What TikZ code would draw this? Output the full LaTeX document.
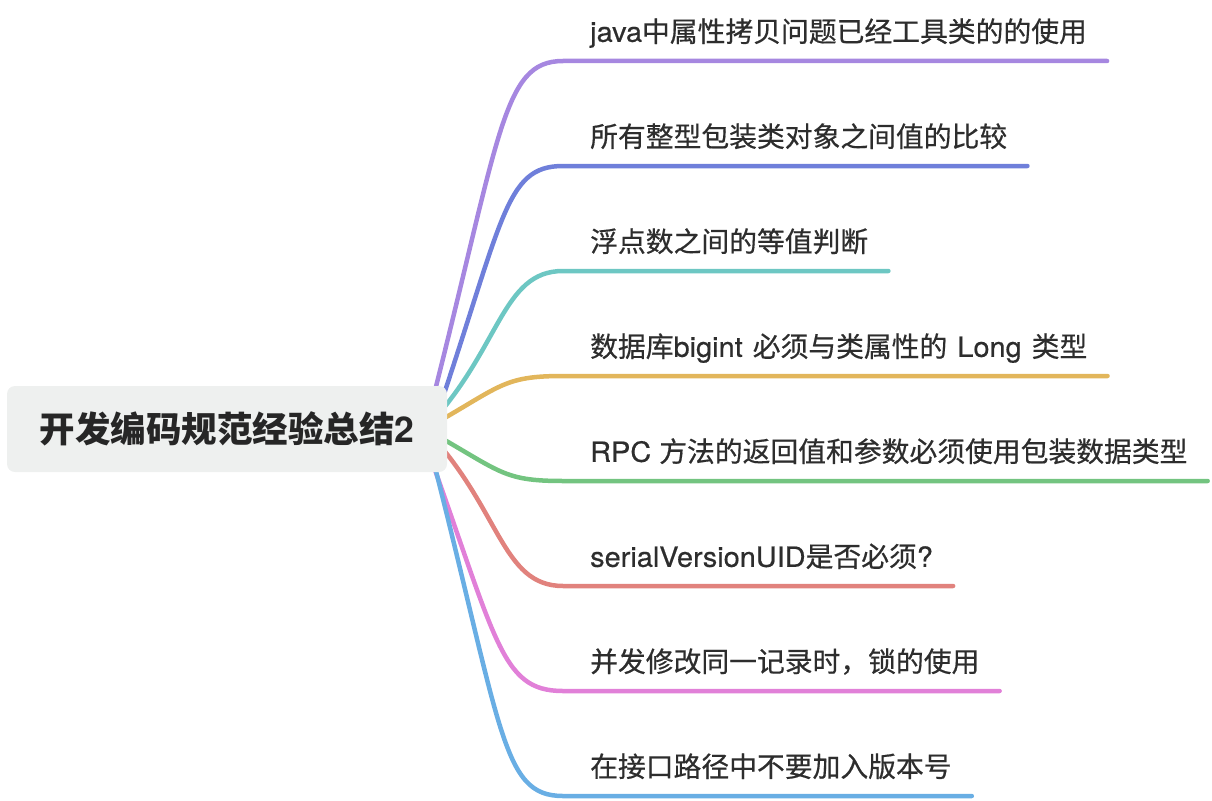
\documentclass[tikz,border=0pt]{standalone}
\usepackage{fontspec}
\newfontfamily\cjk[FakeBold=0.5]{Noto Sans CJK SC}
\newfontfamily\cjkb{Noto Sans CJK SC}
\newfontfamily\lat[FakeBold=0.5,FakeStretch=1.04]{TeX Gyre Heros}
\newfontfamily\latb{TeX Gyre Heros}
\usetikzlibrary{calc,backgrounds}
\definecolor{cPurple}{RGB}{166,135,224}
\definecolor{cBlue}{RGB}{111,127,218}
\definecolor{cTeal}{RGB}{109,199,195}
\definecolor{cYellow}{RGB}{226,182,91}
\definecolor{cGreen}{RGB}{115,196,128}
\definecolor{cRed}{RGB}{225,130,125}
\definecolor{cPink}{RGB}{225,128,216}
\definecolor{cSky}{RGB}{105,174,228}
\definecolor{rootFill}{RGB}{238,240,239}
\definecolor{labelText}{RGB}{45,45,45}
\definecolor{rootText}{RGB}{38,38,38}
\newcommand{\lt}[1]{{\lat #1}}
\newcommand{\pre}{\kern27pt}
\newcommand{\post}{\kern20pt}
\newcommand{\wsp}{{\lat\ }\kern2pt}
\begin{document}
\begin{tikzpicture}[x=1pt,y=-1pt,
  rootbox/.style={rectangle, rounded corners=8pt, fill=rootFill, minimum width=440pt, minimum height=86pt, inner sep=0pt,
    font=\cjkb\bfseries\fontsize{35.5}{40}\selectfont, text=rootText},
  topic/.style={anchor=south west, inner xsep=0pt, inner ysep=19pt, text depth=0pt,
    font=\cjk\fontsize{27.8}{33}\selectfont, text=labelText},
  branch/.style={line width=4.5pt, line cap=round}]
\useasboundingbox (0,0) rectangle (1212,800);
\node[rootbox] (root) at (227,429) {开发编码规范经验总结{\latb\bfseries 2}};
\coordinate (s1) at ($(root.east)+(-22,0)$);
\coordinate (s2) at ($(root.east)+(-15,0)$);
\coordinate (s7) at ($(root.east)+(-27,0)$);
\node[topic] (c1) at (563,61) {\pre\lt{java}中属性拷贝问题已经工具类的的使用\post};
\node[topic] (c2) at (563,166) {\pre 所有整型包装类对象之间值的比较\post};
\node[topic] (c3) at (563,271) {\pre 浮点数之间的等值判断\post};
\node[topic] (c4) at (563,376) {\pre 数据库\lt{bigint}\wsp 必须与类属性的\wsp\lt{Long}\wsp 类型\post};
\node[topic] (c5) at (563,481) {\pre\lt{RPC }方法的返回值和参数必须使用包装数据类型\post};
\node[topic] (c6) at (563,586) {\pre\lt{serialVersionUID}是否必须\lt{?}\post};
\node[topic] (c7) at (563,691) {\pre 并发修改同一记录时，锁的使用\post};
\node[topic] (c8) at (563,796) {\pre 在接口路径中不要加入版本号\post};
\begin{scope}[on background layer]
\draw[branch,cPurple] (s1) .. controls (501,135) and (501,61) .. (c1.south west) -- (c1.south east);
\draw[branch,cBlue] (s2) .. controls (504,219) and (504,166) .. (c2.south west) -- (c2.south east);
\draw[branch,cTeal] (s1) .. controls (501,350) and (501,271) .. (c3.south west) -- (c3.south east);
\draw[branch,cYellow] (s1) .. controls (501,387) and (501,376) .. (c4.south west) -- (c4.south east);
\draw[branch,cGreen] (s1) .. controls (501,471) and (501,481) .. (c5.south west) -- (c5.south east);
\draw[branch,cRed] (s1) .. controls (501,508) and (501,586) .. (c6.south west) -- (c6.south east);
\draw[branch,cPink] (s7) .. controls (497,639) and (499,691) .. (c7.south west) -- (c7.south east);
\draw[branch,cSky] (s1) .. controls (503,729) and (500,796) .. (c8.south west) -- (c8.south east);
\end{scope}
\end{tikzpicture}
\end{document}
